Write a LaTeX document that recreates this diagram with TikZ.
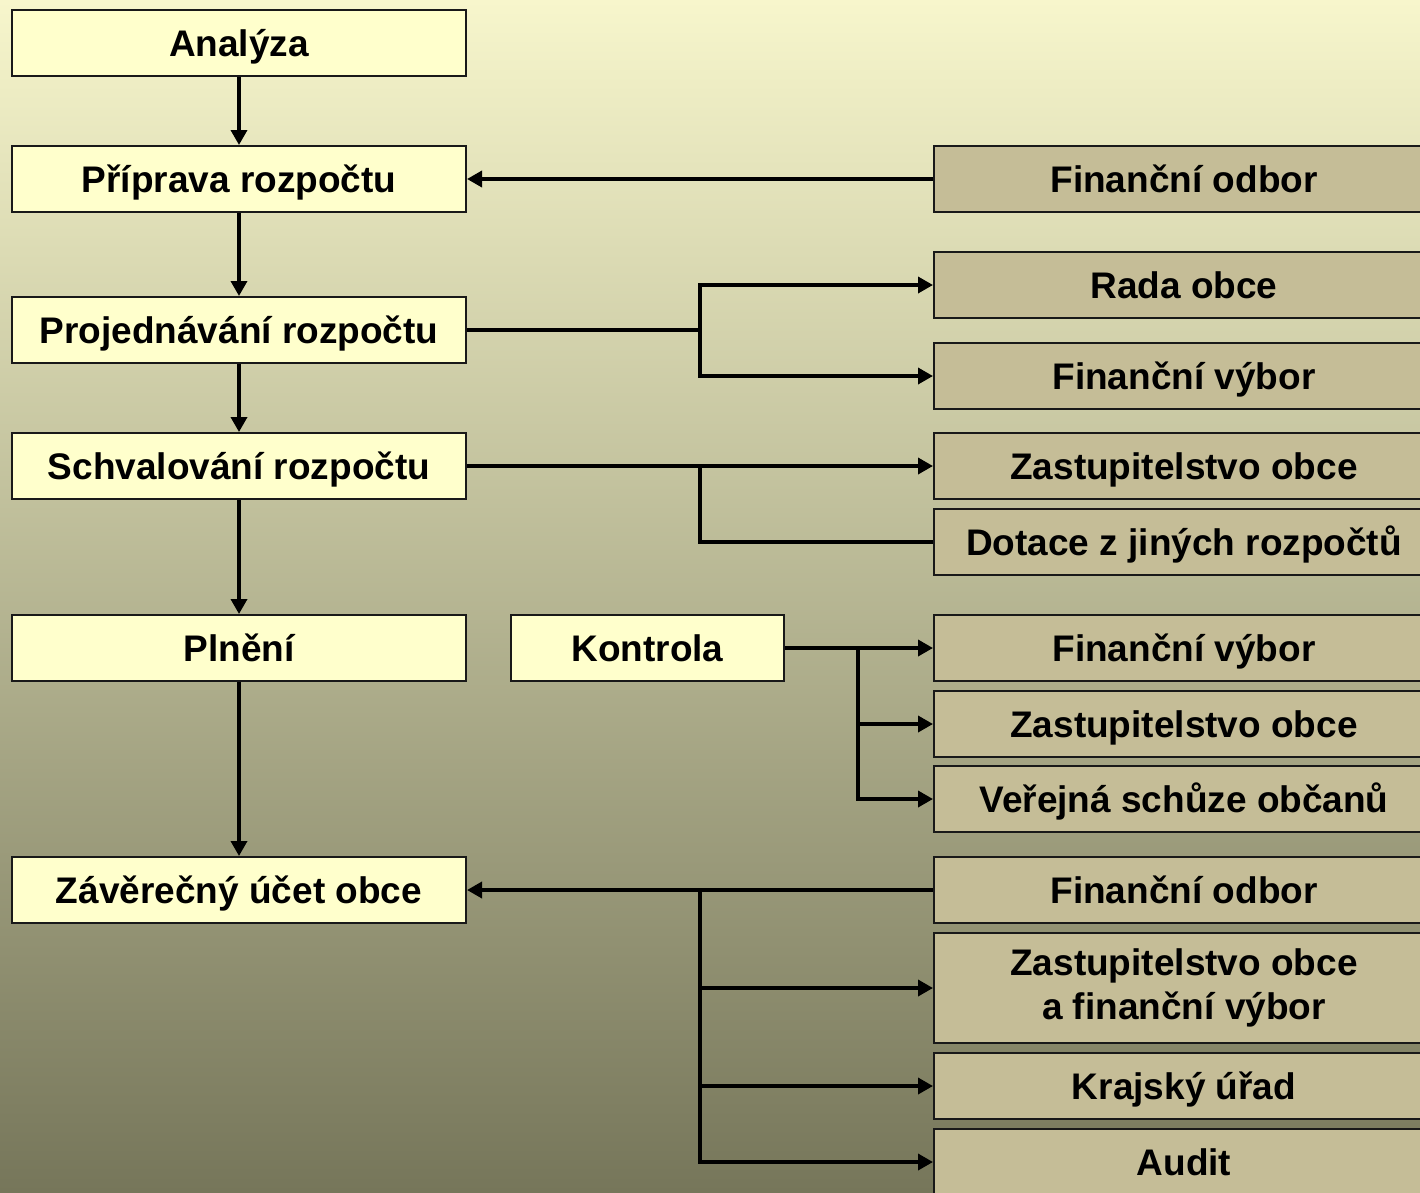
\documentclass[tikz,border=0pt]{standalone}
\usepackage{fontspec}
\setmainfont{Liberation Sans}
\usetikzlibrary{arrows.meta}
\definecolor{bgtop}{HTML}{F7F6CC}
\definecolor{bgmid}{HTML}{BDBC98}
\definecolor{bgbot}{HTML}{76765A}
\definecolor{stepfill}{HTML}{FFFFCC}
\definecolor{orgfill}{HTML}{C5BD97}

\begin{document}
\begin{tikzpicture}[x=1pt,y=-1pt,font=\bfseries\fontsize{37}{44}\selectfont,
    boxbase/.style={draw=black!90,line width=2pt,minimum height=66pt,inner sep=0pt,align=center},
    stepbox/.style={boxbase,fill=stepfill,minimum width=454pt,text height=27pt,text depth=0pt},
    orgtall/.style={boxbase,fill=orgfill,minimum width=500pt},
    orgbox/.style={orgtall,text height=27pt,text depth=0pt},
    link/.style={line width=3.5pt},
    arr/.style={link,-{Triangle[length=15pt,width=16pt]}}]
      \clip (0,0) rectangle (1420,1192);
      \shade[top color=bgtop,middle color=bgmid,bottom color=bgbot] (0,0) rectangle (1420,1192);
      \node[stepbox] (analyza) at (239, 43) {Analýza};
      \node[stepbox] (priprava) at (239, 179) {Příprava rozpočtu};
      \node[stepbox] (projednavani) at (239, 330) {Projednávání rozpočtu};
      \node[stepbox] (schvalovani) at (239, 466) {Schvalování rozpočtu};
      \node[stepbox] (plneni) at (239, 648) {Plnění};
      \node[stepbox] (zaverecny) at (239, 890) {Závěrečný účet obce};
      \node[stepbox,minimum width=273pt] (kontrola) at (647.5, 648) {Kontrola};
      \node[orgbox] (fo1) at (1184, 179) {Finanční odbor};
      \node[orgbox] (rada) at (1184, 285) {Rada obce};
      \node[orgbox] (fv1) at (1184, 376) {Finanční výbor};
      \node[orgbox] (zo1) at (1184, 466) {Zastupitelstvo obce};
      \node[orgbox] (dotace) at (1184, 542) {Dotace z jiných rozpočtů};
      \node[orgbox] (fv2) at (1184, 648) {Finanční výbor};
      \node[orgbox] (zo2) at (1184, 724) {Zastupitelstvo obce};
      \node[orgbox] (schuze) at (1184, 799) {Veřejná schůze občanů};
      \node[orgbox] (fo2) at (1184, 890) {Finanční odbor};
      \node[orgtall,minimum height=110pt] (zofv) at (1184, 988) {Zastupitelstvo obce\\a finanční výbor};
      \node[orgbox] (kraj) at (1184, 1086) {Krajský úřad};
      \node[orgbox] (audit) at (1184, 1162) {Audit};
      \coordinate (j1) at (700, 330);
      \coordinate (j2) at (700, 466);
      \coordinate (j3) at (858, 648);
      \coordinate (j4) at (700, 890);
      \draw[arr] (analyza) -- (priprava);
      \draw[arr] (priprava) -- (projednavani);
      \draw[arr] (projednavani) -- (schvalovani);
      \draw[arr] (schvalovani) -- (plneni);
      \draw[arr] (plneni) -- (zaverecny);
      \draw[arr] (fo1) -- (priprava);
      \draw[link] (projednavani) -- (j1);
      \draw[arr] (j1) |- (rada);
      \draw[arr] (j1) |- (fv1);
      \draw[arr] (schvalovani) -- (zo1);
      \draw[link] (j2) |- (dotace);
      \draw[arr] (kontrola) -- (fv2);
      \draw[arr] (j3) |- (zo2);
      \draw[arr] (j3) |- (schuze);
      \draw[arr] (fo2) -- (zaverecny);
      \draw[arr] (j4) |- (zofv);
      \draw[arr] (j4) |- (kraj);
      \draw[arr] (j4) |- (audit);
    \end{tikzpicture}
\end{document}
